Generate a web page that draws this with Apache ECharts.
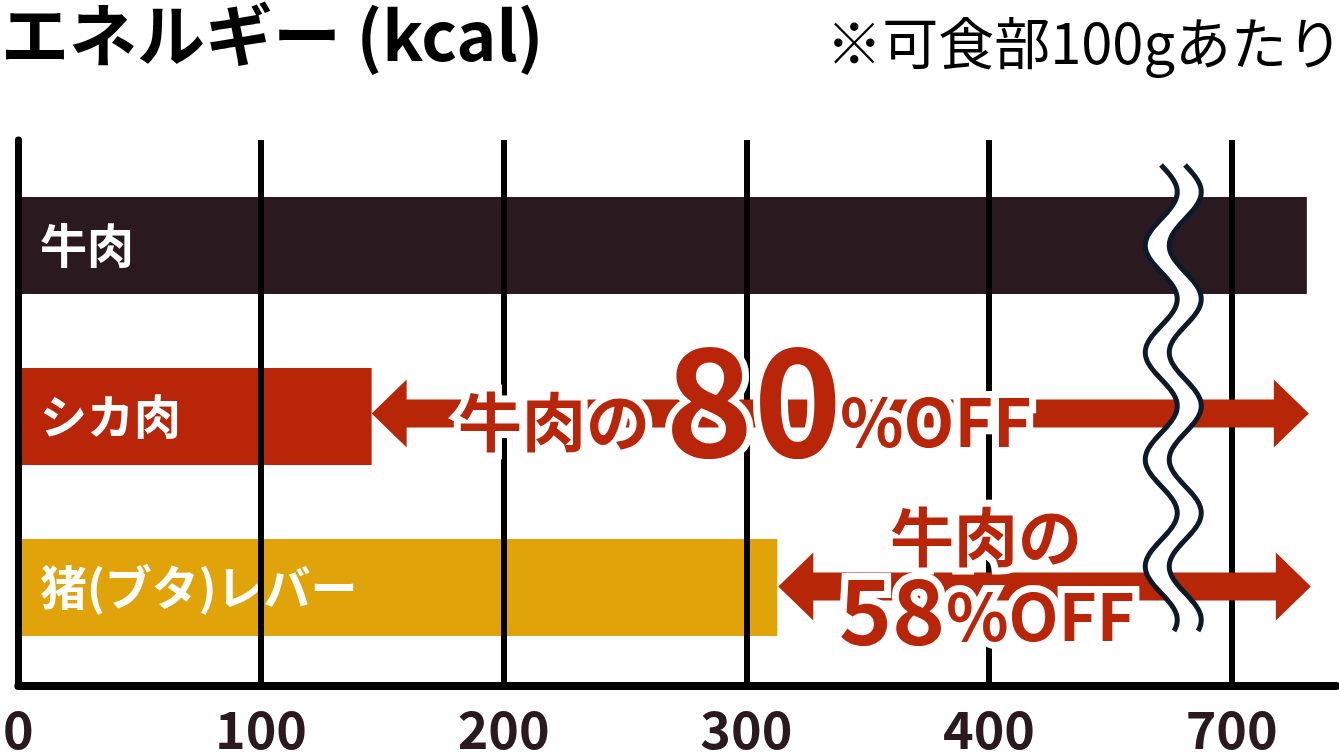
<!DOCTYPE html>
<html>
<head>
<meta charset="utf-8">
<script src="https://cdn.jsdelivr.net/npm/echarts@6.0.0/dist/echarts.min.js"></script>
<style>
html,body{margin:0;padding:0;background:#fff;}
#c{width:1339px;height:756px;}
</style>
</head>
<body>
<div id="c"></div>
<script>
// ---- data ----
const categories = ['牛肉', 'シカ肉', '猪(ブタ)レバー'];
const kcal = [731, 146, 313];
const barColors = ['#2a1a1f', '#b92508', '#e0a40a'];
const tickLabels = [0, 100, 200, 300, 400, 700];
const breakShift = 200;      // values from 700 upward are drawn 200 lower (axis break)
const breakThreshold = 700;
const axisMaxShown = 543;

function toAxis(v) { return v >= breakThreshold ? v - breakShift : v; }
const axisTicks = tickLabels.map(toAxis);

const FONT = '"Noto Sans CJK JP", "Noto Sans", sans-serif';
const chart = echarts.init(document.getElementById('c'));

chart.setOption({
  animation: false,
  backgroundColor: '#fff',
  title: [
    { text: 'エネルギー (kcal)', left: 1, top: 1, padding: 0,
      textStyle: { fontFamily: FONT, fontWeight: 'bold', fontSize: 68, color: '#000' } },
    { text: '※可食部100gあたり', right: -4, top: 15, padding: 0,
      textStyle: { fontFamily: FONT, fontWeight: 'normal', fontSize: 56, color: '#000' } }
  ],
  grid: [
    { left: 17, right: 3, top: 140, bottom: 70 },
    { left: 17, right: 3, top: 160, height: 513 }
  ],
  xAxis: [
    { type: 'value', gridIndex: 0, min: 0, max: axisMaxShown, interval: 100,
      axisLine: { show: true, onZero: false, lineStyle: { color: '#000', width: 8 } },
      axisTick: { show: false }, splitLine: { show: false },
      axisLabel: { margin: 17, color: '#2a1a1f', fontFamily: FONT, fontWeight: 'bold', fontSize: 52,
        showMaxLabel: false,
        formatter: function (v) { const i = axisTicks.indexOf(v); return i >= 0 ? String(tickLabels[i]) : ''; } } },
    { type: 'value', gridIndex: 1, min: 0, max: axisMaxShown, show: false }
  ],
  yAxis: [
    { type: 'value', gridIndex: 0, min: 0, max: 1, z: 6,
      axisLine: { show: true, lineStyle: { color: '#000', width: 7 } },
      axisTick: { show: false }, axisLabel: { show: false }, splitLine: { show: false } },
    { type: 'category', gridIndex: 1, inverse: true, data: categories, show: false }
  ],
  series: [
    { type: 'line', xAxisIndex: 0, yAxisIndex: 0, data: [], z: 1, silent: true,
      markLine: { silent: true, symbol: ['none', 'none'], label: { show: false },
        lineStyle: { color: '#000', width: 6, type: 'solid' },
        emphasis: { disabled: true },
        data: axisTicks.slice(1).map(v => ({ xAxis: v })) } },
    { type: 'bar', xAxisIndex: 1, yAxisIndex: 1, barWidth: 97, z: 3,
      data: kcal.map((v, i) => ({ value: toAxis(v), itemStyle: { color: barColors[i] } })),
      label: { show: true, position: 'insideLeft', distance: 23, formatter: '{b}',
        color: '#fff', fontFamily: FONT, fontWeight: 'bold', fontSize: 47 } }
  ]
});

// ---- annotations ----
function px(v, i) { return chart.convertToPixel({ xAxisIndex: 1, yAxisIndex: 1 }, [toAxis(v), i]); }
const beefEnd = px(kcal[0], 0)[0];
const arrowColor = '#b72607';
const textColor = '#b92508';

function arrow(xl, xr, cy) {
  const hl = 35, hh = 34, st = 14;
  return {
    type: 'polygon', z: 5, silent: true,
    shape: { points: [
      [xl, cy], [xl + hl, cy - hh], [xl + hl, cy - st], [xr - hl, cy - st], [xr - hl, cy - hh],
      [xr, cy], [xr - hl, cy + hh], [xr - hl, cy + st], [xl + hl, cy + st], [xl + hl, cy + hh]
    ] },
    style: { fill: arrowColor }
  };
}
function outlined(text, x, y, size) {
  const font = 'bold ' + size + 'px ' + FONT;
  return [
    { type: 'text', z: 6, silent: true, x: x, y: y,
      style: { text: text, font: font, fill: '#fff', stroke: '#fff', lineWidth: 14, lineJoin: 'round',
        align: 'left', verticalAlign: 'middle' } },
    { type: 'text', z: 7, silent: true, x: x, y: y,
      style: { text: text, font: font, fill: textColor, align: 'left', verticalAlign: 'middle' } }
  ];
}

const vEnd = px(kcal[1], 1);
const lEnd = px(kcal[2], 2);
const a1y = vEnd[1] - 3;
const a2y = lEnd[1] - 1;

const g = [];
g.push(arrow(vEnd[0], beefEnd + 2, a1y));
g.push(arrow(lEnd[0] + 1, beefEnd + 4, a2y));
g.push(...outlined('牛肉の', 458, a1y + 8, 64));
g.push(...outlined('80', 665, a1y - 14, 150));
g.push(...outlined('%OFF', 840, a1y + 8, 66));
g.push(...outlined('牛肉の', 890, a2y - 50, 64));
g.push(...outlined('58', 839, a2y + 24, 90));
g.push(...outlined('%OFF', 946, a2y + 30, 65));

// axis-break wave (decoration)
const mid = chart.convertToPixel({ xAxisIndex: 1 }, 476);
const cL = mid - 12, cR = mid + 12, A = 16, period = 107, y0 = 192, yTop = 165, yBot = 631;
const left = [], right = [];
for (let y = yTop; y <= yBot; y += 2) {
  const d = A * Math.cos(2 * Math.PI * (y - y0) / period);
  left.push([cL + d, y]);
  right.push([cR + d, y]);
}
g.push({ type: 'polygon', z: 8, silent: true, shape: { points: left.concat(right.slice().reverse()) },
  style: { fill: '#fff' } });
g.push({ type: 'polyline', z: 9, silent: true, shape: { points: left }, style: { stroke: '#0c1a2a', lineWidth: 5, fill: null } });
g.push({ type: 'polyline', z: 9, silent: true, shape: { points: right }, style: { stroke: '#0c1a2a', lineWidth: 5, fill: null } });

chart.setOption({ graphic: g });
</script>
</body>
</html>
